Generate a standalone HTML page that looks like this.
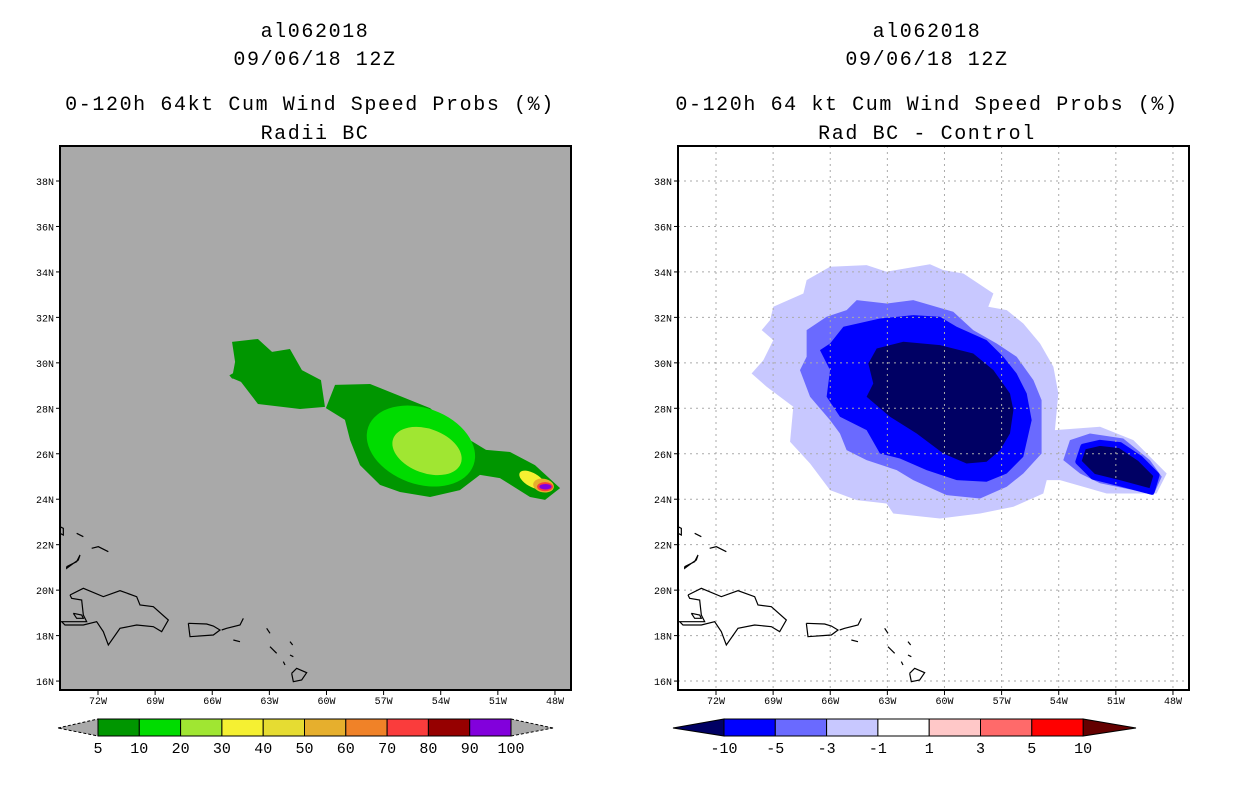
<!DOCTYPE html>
<html><head><meta charset="utf-8"><style>
body{margin:0;background:#fff;}
svg{display:block;font-family:"Liberation Mono","DejaVu Sans Mono",monospace;}
.t{font-size:20px;text-anchor:middle;fill:#000;letter-spacing:1.6px;}
.tk{font-size:10px;fill:#000;}
.cb{font-size:15px;text-anchor:middle;fill:#000;}
</style></head><body>
<svg id="s" width="1236" height="800" viewBox="0 0 1236 800">
<g>
<text class="t" x="315" y="37">al062018</text>
<text class="t" x="315" y="65">09/06/18 12Z</text>
<text class="t" x="310" y="110">0-120h 64kt Cum Wind Speed Probs (%)</text>
<text class="t" x="315" y="139">Radii BC</text>
</g>
<g>
<text class="t" x="927" y="37">al062018</text>
<text class="t" x="927" y="65">09/06/18 12Z</text>
<text class="t" x="927" y="110">0-120h 64 kt Cum Wind Speed Probs (%)</text>
<text class="t" x="927" y="139">Rad BC - Control</text>
</g>
<defs>
<clipPath id="cl"><rect x="60" y="146" width="511" height="544"/></clipPath>
<clipPath id="cr"><rect x="678" y="146" width="511" height="544"/></clipPath>
</defs>
<rect x="60" y="146" width="511" height="544" fill="#a9a9a9"/>
<rect x="678" y="146" width="511" height="544" fill="#fff"/>
<g id="L" clip-path="url(#cl)"></g>
<g id="R" clip-path="url(#cr)"></g>
<rect x="60" y="146" width="511" height="544" fill="none" stroke="#000" stroke-width="2"/>
<rect x="678" y="146" width="511" height="544" fill="none" stroke="#000" stroke-width="2"/>
<g id="A"></g>
<g id="CB"></g>
</svg>
<script>
const NS="http://www.w3.org/2000/svg";
const lonTicks=[-72,-69,-66,-63,-60,-57,-54,-51,-48];
const latTicks=[16,18,20,22,24,26,28,30,32,34,36,38];
// left panel contours (lon, lat)
const westBlob5=[[-64.96,30.92],[-63.6,31.05],[-62.86,30.48],[-61.92,30.61],[-61.29,29.68],[-60.29,29.24],[-60.08,28.06],[-61.39,27.97],[-63.6,28.19],[-64.49,29.16],[-64.96,29.33],[-64.8,30.04]];
const eastBlob5=[[-59.55,29.03],[-57.71,29.07],[-56.14,28.54],[-54.56,28.01],[-52.46,26.6],[-51.62,26.17],[-50.36,26.08],[-49.05,25.5],[-47.73,24.49],[-48.52,23.97],[-49.31,24.1],[-50.89,24.93],[-51.94,25.07],[-52.99,24.4],[-54.56,24.1],[-56.14,24.32],[-57.19,24.63],[-58.24,25.5],[-58.76,26.6],[-59.03,27.49],[-60.03,28.01]];
// ellipses: lon, lat, rx(deg), ry(deg), angle, level color index
const probEllipses=[[-55.04,26.34,2.94,1.67,20,1],[-54.72,26.12,1.89,0.97,20,2],[-49.42,24.93,1.05,0.35,35,0],[-49.2,24.85,0.75,0.3,30,3],[-48.6,24.6,0.55,0.3,10,5],[-48.52,24.55,0.42,0.2,0,7],[-48.5,24.55,0.32,0.12,0,9]];
const probColors=["#009600","#00dc00","#a0e632","#f5f032","#e6dc32","#e6af2d","#f08228","#fa3c3c","#960000","#8200dc"];
const probLabels=["5","10","20","30","40","50","60","70","80","90","100"];
// right panel difference contours
const diffOuter=[[-66.01,34.23],[-64.09,34.3],[-63.04,34.01],[-60.76,34.34],[-60.06,34.08],[-59.01,33.93],[-57.43,33.05],[-57.7,32.47],[-56.73,32.32],[-55.86,31.73],[-54.98,30.85],[-54.28,29.83],[-54.02,28.65],[-54.2,27.04],[-51.83,27.19],[-50.08,26.6],[-48.33,25.13],[-48.86,24.25],[-51.48,24.25],[-53.93,24.84],[-54.63,24.84],[-54.81,24.25],[-56.38,23.67],[-58.13,23.37],[-60.24,23.15],[-62.69,23.37],[-63.04,23.81],[-64.61,23.96],[-66.01,24.4],[-67.06,25.57],[-68.11,26.53],[-67.94,28.07],[-69.34,28.95],[-70.13,29.53],[-69.51,30.12],[-68.99,31.0],[-69.6,31.44],[-69.16,31.88],[-68.99,32.47],[-67.41,33.05],[-67.24,33.64]];
const diffMinus3=[[-64.61,32.76],[-63.04,32.61],[-61.64,32.76],[-59.54,32.25],[-58.49,31.44],[-57.26,30.85],[-56.21,30.27],[-55.33,29.24],[-54.9,28.36],[-54.9,26.01],[-55.86,25.13],[-56.73,24.55],[-58.13,24.03],[-59.89,24.18],[-61.64,24.84],[-62.51,25.28],[-64.09,25.72],[-65.14,26.16],[-65.49,26.89],[-66.01,27.48],[-67.06,28.51],[-67.59,29.68],[-67.24,30.27],[-67.24,31.44],[-66.19,32.03],[-65.14,32.32]];
const diffMinus5=[[-65.31,31.59],[-63.39,31.95],[-61.64,32.1],[-60.24,32.03],[-59.36,31.59],[-57.79,31.0],[-56.91,30.27],[-56.21,29.53],[-55.68,28.65],[-55.42,27.48],[-55.86,25.87],[-56.73,25.13],[-57.79,24.77],[-59.36,24.84],[-60.94,25.28],[-62.34,25.79],[-63.39,26.01],[-64.09,27.04],[-65.49,27.63],[-66.19,28.51],[-66.01,29.68],[-66.54,30.56],[-66.01,30.85]];
const diffMinus10=[[-63.56,30.63],[-62.16,30.93],[-60.24,30.78],[-58.49,30.41],[-57.43,29.68],[-56.56,28.65],[-56.38,27.92],[-56.56,26.89],[-57.08,26.16],[-57.79,25.65],[-58.84,25.57],[-60.06,26.01],[-61.46,26.89],[-62.86,27.63],[-64.09,28.51],[-63.74,29.09],[-64.0,29.97]];
const eastMinus3=[[-53.41,26.6],[-52.36,26.89],[-50.61,26.67],[-49.21,25.72],[-48.59,24.99],[-49.03,24.18],[-50.08,24.4],[-51.83,24.7],[-52.88,25.13],[-53.76,25.72]];
const eastMinus10=[[-52.71,26.31],[-51.83,26.48],[-50.78,26.38],[-49.73,25.79],[-48.86,25.06],[-49.12,24.33],[-50.78,24.7],[-52.18,24.99],[-52.97,25.65]];
const diffColors=["#0000ff","#6a6aff","#c8c8ff","#ffffff","#ffc8c8","#ff6a6a","#ff0000"];
const diffLabels=["-10","-5","-3","-1","1","3","5","10"];

const X0=[98,716];
function xs(lon,p){return X0[p]+(lon+72)*19.04;}
function ys(lat){return 181+(38-lat)*22.73;}
function el(tag,attrs,parent){const e=document.createElementNS(NS,tag);for(const k in attrs)e.setAttribute(k,attrs[k]);parent.appendChild(e);return e;}
function poly(pts,p,fill,parent,name,stroke,sw){
  const e=el('polygon',{points:pts.map(q=>xs(q[0],p)+','+ys(q[1])).join(' '),fill:fill,stroke:stroke||'none','stroke-width':sw||0,'stroke-linejoin':'round'},parent);
  
  
  return e;
}
const L=document.getElementById('L'),R=document.getElementById('R'),A=document.getElementById('A'),CB=document.getElementById('CB');
// left
poly(westBlob5,0,probColors[0],L,'contour-5pct-west');
poly(eastBlob5,0,probColors[0],L,'contour-5pct-east');
poly([[-65.1,29.45],[-64.9,29.55],[-64.75,29.4],[-64.95,29.3]],0,probColors[0],L,'contour-5pct-speck');
probEllipses.forEach((e,i)=>{
  const c=el('ellipse',{cx:xs(e[0],0),cy:ys(e[1]),rx:e[2]*19.04,ry:e[3]*22.73,fill:probColors[e[5]],transform:`rotate(${e[4]} ${xs(e[0],0)} ${ys(e[1])})`},L);
  
  
});
// right
poly(diffOuter,1,diffColors[2],R,'diff-contour-minus1');
poly(diffMinus3,1,diffColors[1],R,'diff-contour-minus3');
poly(diffMinus5,1,diffColors[0],R,'diff-contour-minus5');
poly(diffMinus10,1,'#000064',R,'diff-contour-minus10');
poly(eastMinus3,1,diffColors[1],R,'diff-east-minus3');
poly(eastMinus10,1,'#000064',R,'diff-east-minus10',diffColors[0],6);
// grid right
lonTicks.forEach(l=>{const g=el('line',{x1:xs(l,1),x2:xs(l,1),y1:146,y2:690,stroke:'#aaa','stroke-dasharray':'2,4'},R);});
latTicks.forEach(l=>{const g=el('line',{x1:678,x2:1189,y1:ys(l),y2:ys(l),stroke:'#aaa','stroke-dasharray':'2,4'},R);});
// coastlines (decor, left panel pixel frame)
const coast=[
 [[90,285],[130,265],[190,290],[240,272],[290,290],[300,315],[340,320],[385,360],[365,395],[340,380],[290,375],[240,385],[205,435],[190,395],[170,365],[130,375],[75,375],[65,365],[115,365],[140,365],[130,345],[125,300],[95,295],[90,285]],
 [[445,370],[500,372],[520,378],[540,390],[520,405],[450,410],[445,370]],
 [[80,200],[110,185],[120,165],[115,180],[100,190],[80,205],[80,200]],
 [[60,80],[70,85],[70,105],[60,100]],[[110,100],[130,110]],[[155,145],[175,140],[205,155]],
 [[100,340],[125,345],[130,355],[110,355],[100,340]],[[580,420],[600,425]],[[545,390],[560,385],[600,375],[610,355]],
 [[680,385],[690,400]],[[690,440],[710,460]],[[730,485],[735,495]],[[750,425],[758,435]],[[755,520],[770,505],[800,518],[785,540],[760,545],[755,520]],[[750,465],[760,470]]
];
[0,618].forEach((dx,p)=>{
  const g=el('g',{transform:`translate(${dx},0)`},p?R:L);
  
  
  coast.forEach(c=>el('polyline',{points:c.map(q=>(40+q[0]/3)+','+(500+q[1]/3)).join(' '),fill:'none',stroke:'#000','stroke-width':1.2},g));
});
// axes
[0,1].forEach(p=>{
  lonTicks.forEach(l=>{
    const x=xs(l,p);
    el('line',{x1:x,x2:x,y1:690,y2:695,stroke:'#000'},A);
    const t=el('text',{x:x,y:704,'text-anchor':'middle',class:'tk'},A);t.textContent=(-l)+'W';
    
  });
  latTicks.forEach(l=>{
    const y=ys(l),x0=p?678:60;
    el('line',{x1:x0-4,x2:x0,y1:y,y2:y,stroke:'#000'},A);
    const t=el('text',{x:x0-6,y:y+4,'text-anchor':'end',class:'tk'},A);t.textContent=l+'N';
    
  });
});
// colorbars
function bar(x0,w,tipL,tipR,cols,labels,lc,rc,name){
  const g=el('g',{},CB);
  const y0=719,y1=736,ym=728;
  el('polygon',{points:`${tipL},${ym} ${x0},${y0} ${x0},${y1}`,fill:lc,stroke:'#000','stroke-dasharray':lc==='#a9a9a9'?'3,2':'none'},g);
  const xe=x0+w*cols.length;
  el('polygon',{points:`${tipR},${ym} ${xe},${y0} ${xe},${y1}`,fill:rc,stroke:'#000','stroke-dasharray':rc==='#a9a9a9'?'3,2':'none'},g);
  cols.forEach((c,i)=>{const r=el('rect',{x:x0+i*w,y:y0,width:w,height:y1-y0,fill:c,stroke:'#000'},g);});
  labels.forEach((s,i)=>{const t=el('text',{x:x0+i*w,y:753,class:'cb'},g);t.textContent=s;});
}
bar(98,41.3,58,553,probColors,probLabels,'#a9a9a9','#a9a9a9','prob-colorbar');
bar(724,51.3,673,1136,diffColors,diffLabels,'#000064','#640000','diff-colorbar');
</script>
</body></html>
